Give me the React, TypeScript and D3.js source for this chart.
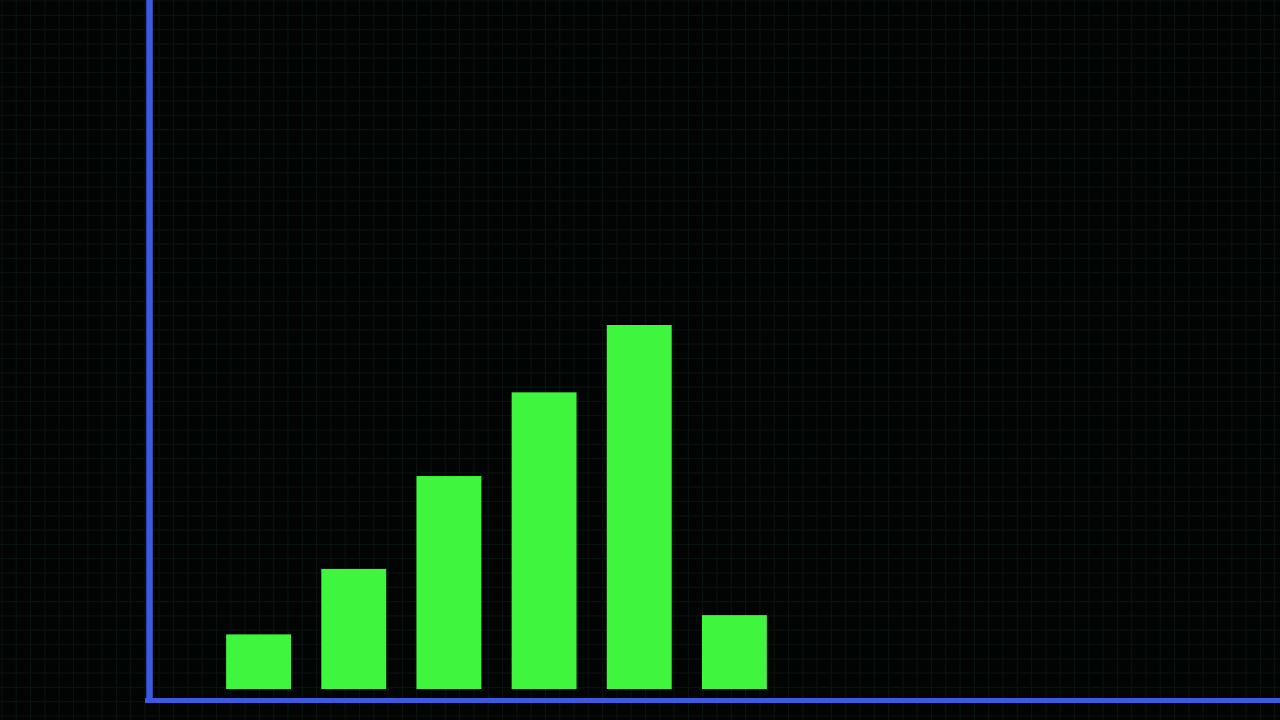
import React, { useEffect, useRef } from "react";
import * as d3 from "d3";

// bar categories and values (arbitrary units)
const categories = ["A", "B", "C", "D", "E", "F"];
const values = [15, 33, 58.5, 81.5, 100, 20.3];

const WIDTH = 1280;
const HEIGHT = 720;

const App = () => {
  const ref = useRef<SVGSVGElement>(null);

  useEffect(() => {
    const svg = d3.select(ref.current);
    svg.selectAll("*").remove();

    svg
      .append("rect")
      .attr("width", WIDTH)
      .attr("height", HEIGHT)
      .attr("fill", "#020303");

    // faint background grid
    const gx = d3.range(2, WIDTH, 14.3);
    const gy = d3.range(1, HEIGHT, 14.3);
    const grid = svg.append("g").attr("stroke", "#0a1211").attr("stroke-width", 1.2);
    grid
      .selectAll("line.v")
      .data(gx)
      .join("line")
      .attr("class", "v")
      .attr("x1", (d) => d)
      .attr("x2", (d) => d)
      .attr("y1", 0)
      .attr("y2", HEIGHT);
    grid
      .selectAll("line.h")
      .data(gy)
      .join("line")
      .attr("class", "h")
      .attr("y1", (d) => d)
      .attr("y2", (d) => d)
      .attr("x1", 0)
      .attr("x2", WIDTH);

    const x = d3
      .scaleBand<string>()
      .domain(categories)
      .range([211, 782])
      .paddingInner(0.318)
      .paddingOuter(0.159);

    const y = d3.scaleLinear().domain([0, 100]).range([689, 325]);

    svg
      .append("g")
      .selectAll("rect")
      .data(values)
      .join("rect")
      .attr("x", (d, i) => x(categories[i]) as number)
      .attr("y", (d) => y(d))
      .attr("width", x.bandwidth())
      .attr("height", (d) => y(0) - y(d))
      .attr("fill", "#3ff53d");

    // axes
    svg
      .append("line")
      .attr("x1", 149.5)
      .attr("x2", 149.5)
      .attr("y1", 0)
      .attr("y2", 703)
      .attr("stroke", "#3c5ae0")
      .attr("stroke-width", 6.5);

    svg
      .append("line")
      .attr("x1", 145)
      .attr("x2", WIDTH)
      .attr("y1", 700.5)
      .attr("y2", 700.5)
      .attr("stroke", "#3c5ae0")
      .attr("stroke-width", 5);
  });

  return (
    <div style={{ position: "fixed", left: 0, top: 0, width: WIDTH, height: HEIGHT, background: "#020303" }}>
      <svg ref={ref} width={WIDTH} height={HEIGHT} style={{ display: "block" }} />
    </div>
  );
};

export default App;
